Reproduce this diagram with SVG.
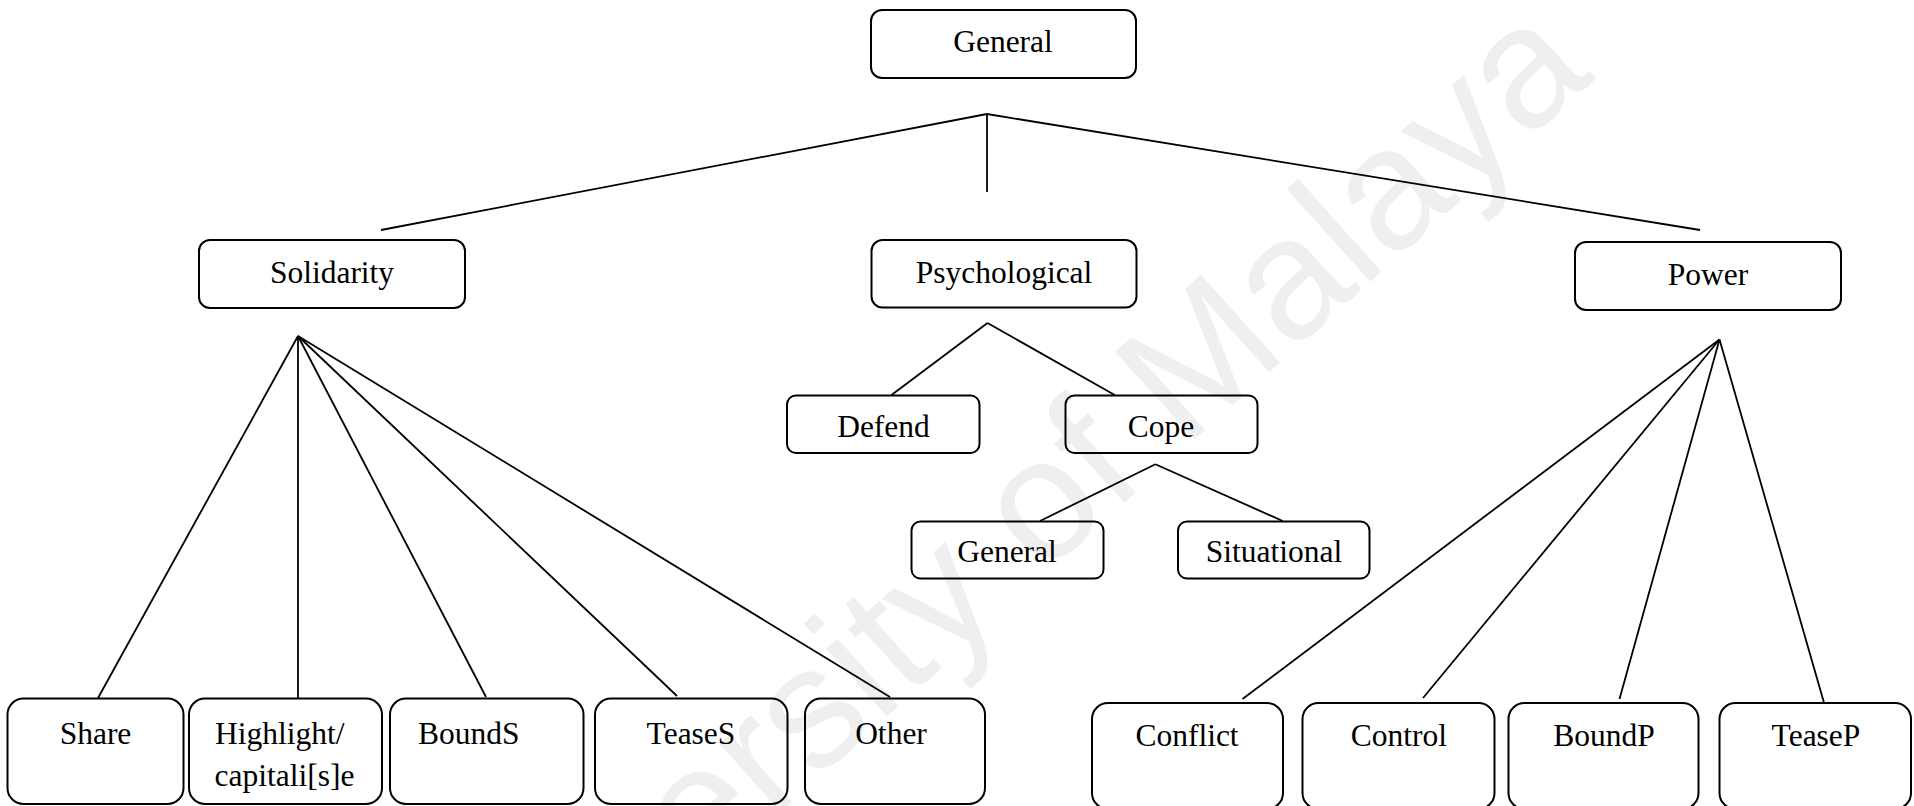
<svg xmlns="http://www.w3.org/2000/svg" width="1914" height="806" viewBox="0 0 1914 806">
<style>
.bg{fill:#ffffff}
.wm{font-family:"Liberation Sans",Arial,sans-serif;font-size:172px;fill:#efefef}
.box{fill:none;stroke:#000;stroke-width:2}
.lbl{font-family:"Liberation Serif","Times New Roman",serif;font-size:31.5px;fill:#000;text-anchor:middle}
.lbl-l{font-family:"Liberation Serif","Times New Roman",serif;font-size:31.5px;fill:#000}
.edge{stroke:#000;stroke-width:1.8;fill:none}
</style>
<rect class="bg" x="0" y="0" width="1914" height="806"/>
<text class="wm" text-anchor="end" transform="translate(1596,78) rotate(-42)">ersity of Malaya</text>
<g id="connectors">
  <line class="edge" x1="987" y1="114" x2="381" y2="230"/>
  <line class="edge" x1="987" y1="114" x2="1700" y2="230"/>
  <line class="edge" x1="987" y1="114" x2="987" y2="192" stroke-width="1.5"/>
  <line class="edge" x1="298" y1="336" x2="98" y2="698"/>
  <line class="edge" x1="298" y1="336" x2="298" y2="698"/>
  <line class="edge" x1="298" y1="336" x2="486" y2="697"/>
  <line class="edge" x1="298" y1="336" x2="677" y2="696"/>
  <line class="edge" x1="298" y1="336" x2="890" y2="697"/>
  <line class="edge" x1="987.5" y1="323" x2="891.5" y2="395"/>
  <line class="edge" x1="987.5" y1="323" x2="1114.7" y2="395"/>
  <line class="edge" x1="1155.4" y1="464.3" x2="1040" y2="521"/>
  <line class="edge" x1="1155.4" y1="464.3" x2="1282.7" y2="521"/>
  <line class="edge" x1="1719.5" y1="339.5" x2="1242.5" y2="699"/>
  <line class="edge" x1="1719.5" y1="339.5" x2="1423" y2="698"/>
  <line class="edge" x1="1719.5" y1="339.5" x2="1619.5" y2="699"/>
  <line class="edge" x1="1719.5" y1="339.5" x2="1824" y2="702.7"/>
</g>
<g id="general-top"><rect class="box" x="871" y="10" width="265" height="68" rx="11"/><text class="lbl" x="1003" y="52">General</text></g>
<g id="solidarity"><rect class="box" x="199" y="240" width="266" height="68" rx="11"/><text class="lbl" x="332" y="283">Solidarity</text></g>
<g id="psychological"><rect class="box" x="871.5" y="240" width="265" height="67.5" rx="11"/><text class="lbl" x="1004" y="283">Psychological</text></g>
<g id="power"><rect class="box" x="1575" y="242" width="266" height="68" rx="11"/><text class="lbl" x="1708" y="285">Power</text></g>
<g id="defend"><rect class="box" x="787" y="395.5" width="192.5" height="57.5" rx="9"/><text class="lbl" x="883.5" y="436.5">Defend</text></g>
<g id="cope"><rect class="box" x="1065.5" y="395.5" width="192" height="57.5" rx="9"/><text class="lbl" x="1161" y="436.5">Cope</text></g>
<g id="general-sub"><rect class="box" x="911.5" y="521.5" width="192" height="57" rx="9"/><text class="lbl" x="1007" y="561.5">General</text></g>
<g id="situational"><rect class="box" x="1178" y="521.5" width="191.5" height="57" rx="9"/><text class="lbl" x="1274" y="561.5">Situational</text></g>
<g id="share"><rect class="box" x="7.5" y="698.5" width="176" height="105.5" rx="16"/><text class="lbl" x="95.5" y="744">Share</text></g>
<g id="highlight"><rect class="box" x="189" y="698.5" width="193" height="105.5" rx="16"/><text class="lbl-l" x="215" y="744">Highlight/</text><text class="lbl-l" x="214.5" y="786">capitali[s]e</text></g>
<g id="bounds"><rect class="box" x="390" y="698.5" width="193.5" height="105.5" rx="16"/><text class="lbl-l" x="418" y="744">BoundS</text></g>
<g id="teases"><rect class="box" x="595" y="698.5" width="192.5" height="105.5" rx="16"/><text class="lbl" x="691" y="744">TeaseS</text></g>
<g id="other"><rect class="box" x="805" y="698.5" width="180" height="105.5" rx="16"/><text class="lbl" x="891" y="744">Other</text></g>
<g id="conflict"><rect class="box" x="1092" y="703" width="191" height="106" rx="16"/><text class="lbl" x="1187" y="746">Conflict</text></g>
<g id="control"><rect class="box" x="1302.5" y="703" width="192" height="106" rx="16"/><text class="lbl" x="1399" y="746">Control</text></g>
<g id="boundp"><rect class="box" x="1508.5" y="703" width="190" height="106" rx="16"/><text class="lbl" x="1604" y="746">BoundP</text></g>
<g id="teasep"><rect class="box" x="1719.5" y="703" width="191.5" height="106" rx="16"/><text class="lbl" x="1816" y="746">TeaseP</text></g>
</svg>
